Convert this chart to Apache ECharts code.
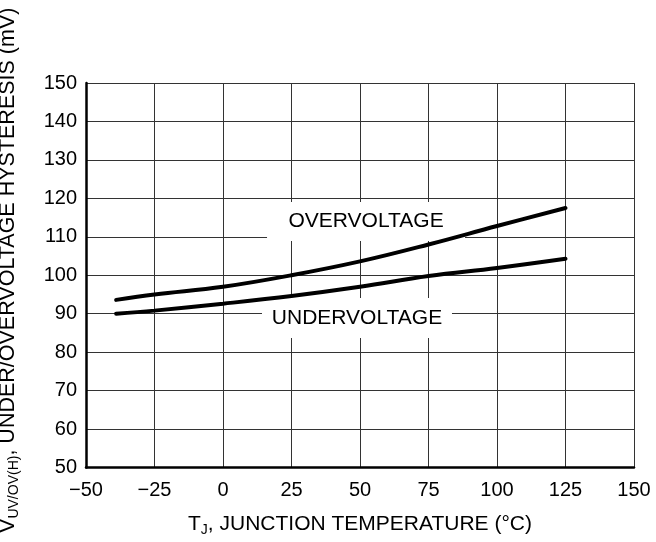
<!DOCTYPE html>
<html><head><meta charset="utf-8">
<script src="https://cdn.jsdelivr.net/npm/echarts@6/dist/echarts.min.js"></script>
<style>html,body{margin:0;padding:0;background:#fff}#c{width:656px;height:542px}</style>
</head><body><div id="c"></div>
<script>
const temps = [-39, -25, 0, 25, 50, 75, 100, 125];
const overvoltage = [93.6, 95.0, 97.0, 100.0, 103.6, 108.0, 112.8, 117.5];
const undervoltage = [90.0, 90.8, 92.6, 94.6, 97.0, 99.8, 101.9, 104.3];
const xTicks = [-50, -25, 0, 25, 50, 75, 100, 125, 150];
const yTicks = [50, 60, 70, 80, 90, 100, 110, 120, 130, 140, 150];
const labelPos = { over: [52.2, 114.0], under: [48.9, 88.9] };
const labelText = { over: 'OVERVOLTAGE', under: 'UNDERVOLTAGE' };

const font = 'Liberation Sans, Arial, Helvetica, sans-serif';
const chart = echarts.init(document.getElementById('c'));
chart.setOption({
  animation: false,
  backgroundColor: '#fff',
  grid: { left: 86, top: 83, right: 22, bottom: 74.5, containLabel: false, outerBoundsMode: 'none' },
  xAxis: {
    type: 'value', min: xTicks[0], max: xTicks[xTicks.length - 1], interval: 25,
    axisLine: { show: true, onZero: false, lineStyle: { color: '#000', width: 2.5 } },
    axisTick: { show: false },
    splitLine: { show: true, lineStyle: { color: '#333', width: 1 } },
    axisLabel: { color: '#000', fontSize: 20, fontFamily: font, margin: 13,
      formatter: v => String(v).replace('-', '\u2212') },
    name: '{m|T}{s|J}{m|, JUNCTION TEMPERATURE (°C)}',
    nameLocation: 'middle', nameGap: 44,
    nameTextStyle: { color: '#000', fontFamily: font,
      rich: { m: { fontSize: 21, fontFamily: font, color: '#000', lineHeight: 26 },
              s: { fontSize: 14, fontFamily: font, color: '#000', verticalAlign: 'bottom', lineHeight: 26, padding: [10, 0, 0, 0] } } }
  },
  yAxis: {
    type: 'value', min: yTicks[0], max: yTicks[yTicks.length - 1], interval: 10,
    axisLine: { show: true, onZero: false, lineStyle: { color: '#000', width: 2.5 } },
    axisTick: { show: false },
    splitLine: { show: true, lineStyle: { color: '#333', width: 1 } },
    axisLabel: { color: '#000', fontSize: 20, fontFamily: font, margin: 9 },
    name: '{m|V}{s|UV/OV(H)}{m|, UNDER/OVERVOLTAGE HYSTERESIS (mV)}',
    nameLocation: 'middle', nameGap: 65, nameRotate: 90,
    nameTextStyle: { color: '#000', fontFamily: font, padding: [0, 0, 0, 10],
      rich: { m: { fontSize: 21.5, fontFamily: font, color: '#000', lineHeight: 26 },
              s: { fontSize: 14, fontFamily: font, color: '#000', verticalAlign: 'bottom', lineHeight: 26, padding: [10, 0, 0, 0] } } }
  },
  series: [
    {
      type: 'scatter', z: 1, symbolSize: 0, silent: true,
      data: [
        { value: labelPos.over, label: { formatter: labelText.over, width: 198, height: 39 } },
        { value: labelPos.under, label: { formatter: labelText.under, width: 190, height: 40 } }
      ],
      label: { show: true, position: 'inside', backgroundColor: '#fff', color: '#000',
        textBorderWidth: 0, textBorderColor: 'transparent', opacity: 1,
        fontSize: 21, fontFamily: font, align: 'center', verticalAlign: 'middle', lineHeight: 39 }
    },
    { type: 'line', z: 3, smooth: 0.4, symbol: 'none', data: temps.map((t, i) => [t, overvoltage[i]]),
      lineStyle: { color: '#000', width: 4, cap: 'round' } },
    { type: 'line', z: 3, smooth: 0.4, symbol: 'none', data: temps.map((t, i) => [t, undervoltage[i]]),
      lineStyle: { color: '#000', width: 4, cap: 'round' } }
  ]
});
</script></body></html>
